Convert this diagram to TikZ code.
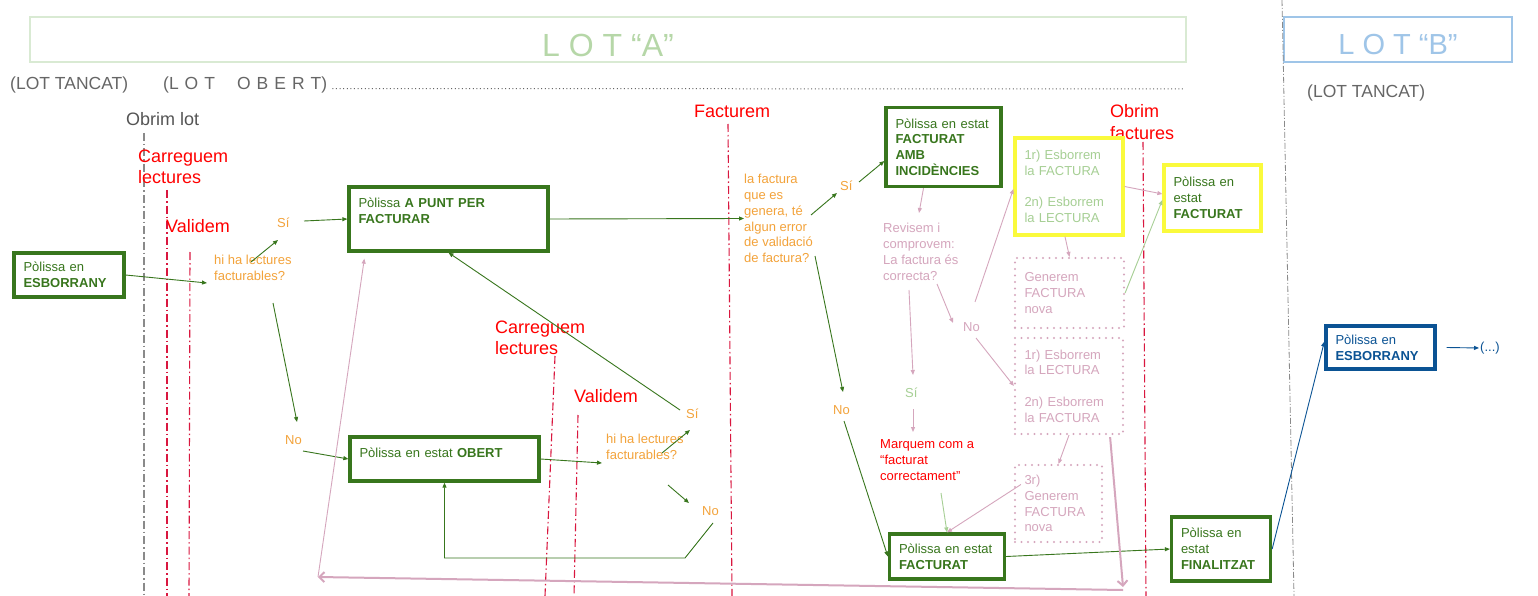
\documentclass[tikz,border=0pt]{standalone}
\usepackage{fontspec}
\setmainfont{Liberation Sans}
\usetikzlibrary{arrows.meta,calc}
\definecolor{dgreen}{HTML}{38761D}
\definecolor{orng}{HTML}{F3A33B}
\definecolor{redt}{HTML}{FF0000}
\definecolor{redl}{HTML}{D9173F}
\definecolor{pinkc}{HTML}{D5A6BD}
\definecolor{ltg}{HTML}{A6CF94}
\definecolor{lotag}{HTML}{B6D7A8}
\definecolor{lotab}{HTML}{D9EAD3}
\definecolor{ltblue}{HTML}{9FC5E8}
\definecolor{dblue}{HTML}{0B5394}
\definecolor{yell}{HTML}{FAFA3C}
\definecolor{grayt}{HTML}{666666}
\definecolor{grayo}{HTML}{555555}
\definecolor{grayl}{HTML}{8A8A8A}
\newcommand\smallf{\fontsize{13}{15.8}\selectfont}
\newcommand\redf{\fontsize{18}{21.3}\selectfont}
\newcommand\grayf{\fontsize{17.5}{20}\selectfont}
\begin{document}
\begin{tikzpicture}[x=1pt, y=-1pt,
 txt/.style={inner sep=0pt, anchor=west, align=left, font=\smallf},
 otxt/.style={txt, text=orng},
 ptxt/.style={txt, text=pinkc},
 redlbl/.style={inner sep=0pt, anchor=west, align=left, font=\redf, text=redt},
 graylbl/.style={inner sep=0pt, anchor=west, font=\grayf, text=grayt},
 stbox/.style={draw=dgreen, line width=3.3pt, inner xsep=9.5pt, inner ysep=0pt, align=left, text=dgreen, font=\smallf},
 ybox/.style={stbox, draw=yell},
 dbox/.style={stbox, draw=pinkc, text=pinkc, line width=2.2pt, dash pattern=on 0pt off 6.5pt, line cap=round},
 bluebox/.style={stbox, draw=dblue, text=dblue},
 garr/.style={draw=dgreen, line width=0.9pt, -{Triangle[length=5pt,width=4pt]}},
 parr/.style={garr, draw=pinkc},
 lgarr/.style={garr, draw=ltg},
 blarr/.style={garr, draw=dblue},
 thickp/.style={draw=pinkc, line width=2pt, -{Straight Barb[length=5pt,width=10pt]}},
 vred/.style={draw=redl, line width=1.1pt, dash pattern=on 8pt off 3pt on 1.5pt off 3pt},
 vgray/.style={vred, draw=grayl},
 lotbox/.style={line width=1.8pt, minimum height=45pt, inner sep=0pt, text depth=0pt}
]
\useasboundingbox[fill=white] (0,0) rectangle (1538,596);

% ---- lot headers
\node[lotbox, draw=lotab, text=lotag, minimum width=1156pt, text height=35pt,
      font=\fontsize{32}{32}\selectfont] (lotA) at (608,39.5) {L O T “A”};
\node[lotbox, draw=ltblue, text=ltblue, minimum width=228pt, text height=31pt,
      font=\fontsize{29}{29}\selectfont] (lotB) at (1398,39.5) {L O T “B”};
\node[graylbl] (gl1) at (10,85) {(LOT TANCAT)};
\node[graylbl] (gl2) at (163,85) {(L\kern6ptO\kern6ptT\kern22ptO\kern6ptB\kern6ptE\kern6ptR\kern6ptT)};
\coordinate (dotend) at (1185,89);
\draw[grayt, line width=1pt, dash pattern=on 1pt off 2.6pt] ([xshift=5pt,yshift=1pt]gl2.base east) -- (dotend);
\node[graylbl] (gl3) at (1307,93) {(LOT TANCAT)};
\node[graylbl, text=grayo, font=\fontsize{18}{20}\selectfont] (obrim) at (126,119) {Obrim lot};

% ---- guide lines
\draw[grayl, line width=0.8pt, dash pattern=on 6pt off 2pt on 1pt off 2pt] (1282,0) -- (1294,596);
\draw[vgray] (144,133) -- (144,596);
\draw[vred] (167,190) -- (167,596);
\draw[vred] (190,252) -- (189,596);
\draw[vred] (555,356) -- (545,596);
\draw[vred] (578,415) -- (574,596);
\draw[vred] (728,124) -- (732,596);
\draw[vred] (1143,142) -- (1146,596);

% ---- red labels
\node[redlbl] (carr1) at (138,166.5) {Carreguem\\lectures};
\node[redlbl] (val1) at (166,226) {Validem};
\node[redlbl] (carr2) at (495,337.5) {Carreguem\\lectures};
\node[redlbl] (val2) at (574,396) {Validem};
\node[redlbl] (factm) at (694,111) {Facturem};
\node[redlbl] (obf) at (1110,122) {Obrim\\factures};

% ---- boxes
\node[stbox, text width=91pt, minimum height=44pt] (esb1) at (69,275) {Pòlissa en\\\textbf{ESBORRANY}};
\node[stbox, text width=180pt, minimum height=64pt] (apunt) at (448.5,219) {Pòlissa \textbf{A PUNT PER}\\\textbf{FACTURAR}\\\mbox{}};
\node[stbox, text width=170pt, minimum height=44pt, text height=9.5pt, text depth=12.7pt] (obert) at (444.5,459) {Pòlissa en estat \textbf{OBERT}};
\node[stbox, text width=96pt, minimum height=79pt] (fai) at (943.5,147) {Pòlissa en estat\\\textbf{FACTURAT}\\\textbf{AMB}\\\textbf{INCIDÈNCIES}};
\node[ybox, text=ltg, text width=89pt, minimum height=97pt] (yel1) at (1069,186.5) {1r) Esborrem\\la FACTURA\\\mbox{}\\2n) Esborrem\\la LECTURA};
\node[dbox, text width=90pt, minimum height=70pt] (gen) at (1069.5,293) {Generem\\FACTURA\\nova};
\node[ybox, text width=78pt, minimum height=66pt] (fy) at (1212.5,198) {Pòlissa en\\estat\\\textbf{FACTURAT}};
\node[dbox, text width=89pt, minimum height=96pt] (lec) at (1069,386) {1r) Esborrem\\la LECTURA\\\mbox{}\\2n) Esborrem\\la FACTURA};
\node[dbox, text width=68pt, minimum height=77pt] (g3) at (1058.5,503.5) {3r)\\Generem\\FACTURA\\nova};
\node[stbox, text width=96pt, minimum height=45pt] (fact) at (947,556.5) {Pòlissa en estat\\\textbf{FACTURAT}};
\node[stbox, text width=80pt, minimum height=64pt] (fin) at (1221,549) {Pòlissa en\\estat\\\textbf{FINALITZAT}};
\node[bluebox, text width=90pt, minimum height=43pt] (esb2) at (1380.5,347.5) {Pòlissa en\\\textbf{ESBORRANY}};

% ---- small texts
\node[otxt] (q1) at (214,268) {hi ha lectures\\facturables?};
\node[otxt] (si1) at (277,223) {Sí};
\node[otxt] (no1) at (285,440) {No};
\node[otxt] (q2) at (606,447) {hi ha lectures\\facturables?};
\node[otxt] (si2) at (686,414) {Sí};
\node[otxt] (no2) at (702,511) {No};
\node[otxt] (q3) at (744,218.5) {la factura\\que es\\genera, té\\algun error\\de validació\\de factura?};
\node[otxt] (si3) at (840,186) {Sí};
\node[ptxt] (rev) at (883,252) {Revisem i\\comprovem:\\La factura és\\correcta?};
\node[ptxt] (no3) at (963,327) {No};
\node[txt, text=ltg] (si4) at (905,393) {Sí};
\node[txt, text=redt] (marq) at (880,460) {Marquem com a\\“facturat\\correctament”};
\node[otxt] (no4) at (833,410) {No};
\node[txt, text=dblue] (dots) at (1480,348) {(...)};

% ---- free ends
\coordinate (a1e) at (207,283);
\coordinate (a2s) at (251,262); \coordinate (a2e) at (278,240);
\coordinate (a3s) at (304,221);
\coordinate (a5s) at (273,303); \coordinate (a5e) at (297,422);
\coordinate (a6s) at (303,451);
\coordinate (a7e) at (602,463);
\coordinate (a8s) at (662,453); \coordinate (a8e) at (690,430);
\coordinate (a9s) at (680,410);
\coordinate (a10s) at (668,485); \coordinate (a10e) at (689,503);
\coordinate (a11s) at (713,523); \coordinate (a11m) at (685,558);
\coordinate (a12s) at (811,215); \coordinate (a12e) at (837,193);
\coordinate (a13s) at (859,182);
\coordinate (a14e) at (919,213);
\coordinate (a15s) at (937,284); \coordinate (a15e) at (953,323);
\coordinate (a16s) at (975,302);
\coordinate (a17s) at (976,338);
\coordinate (a23s) at (909,290); \coordinate (a23e) at (913,375);
\coordinate (a24s) at (913,409); \coordinate (a24e) at (913,432);
\coordinate (a25s) at (941,493);
\coordinate (a26s) at (815,256); \coordinate (a26e) at (843,392);
\coordinate (a27s) at (844,421);
\coordinate (a29e) at (1123,587);
\coordinate (b2) at (1123,590);
\coordinate (b1) at (318,577);

% ---- connectors
\draw[garr] (esb1.east) -- (a1e);
\draw[garr] (a2s) -- (a2e);
\draw[garr] (a3s) -- (apunt.west);
\draw[garr] (apunt.east) -- (q3.west);
\draw[garr] (a5s) -- (a5e);
\draw[garr] (a6s) -- (obert.west);
\draw[garr] (obert.east) -- (a7e);
\draw[garr] (a8s) -- (a8e);
\draw[garr] (a9s) -- (apunt.south);
\draw[garr] (a10s) -- (a10e);
\draw[garr] (a11s) -- (a11m) -- (a11m -| obert.south) -- (obert.south);
\draw[garr] (a12s) -- (a12e);
\draw[garr] (a13s) -- ([yshift=-14pt]fai.west);
\draw[parr] ([xshift=-20pt]fai.south) -- (a14e);
\draw[parr] (a15s) -- (a15e);
\draw[parr] (a16s) -- ([yshift=-2.5pt]yel1.west);
\draw[parr] (a17s) -- (lec.west);
\draw[parr] ([xshift=-4pt]yel1.south) -- (gen.north);
\draw[lgarr] (gen.east) -- ([yshift=-2pt]fy.west);
\draw[parr] (yel1.east) -- ([yshift=4pt]fy.west);
\draw[parr] (lec.south) -- (g3.north);
\draw[parr] ([xshift=7pt,yshift=19pt]g3.west) -- (fact.north);
\draw[parr] (a23s) -- (a23e);
\draw[parr] (a24s) -- (a24e);
\draw[lgarr] (a25s) -- (fact.north);
\draw[garr] (a26s) -- (a26e);
\draw[garr] (a27s) -- (fact.west);
\draw[garr] (fact.east) -- (fin.west);
\draw[thickp] ([xshift=-14pt,yshift=-2pt]lec.south east) -- (a29e);
\draw[thickp] (b2) -- (b1);
\draw[parr] (b1) -- ([xshift=17pt,yshift=-6pt]apunt.south west);
\draw[blarr] (fin.east) -- ([yshift=6pt]esb2.west);
\draw[blarr, shorten >=1pt] ([xshift=10pt]esb2.east) -- (dots.west);
\end{tikzpicture}
\end{document}
